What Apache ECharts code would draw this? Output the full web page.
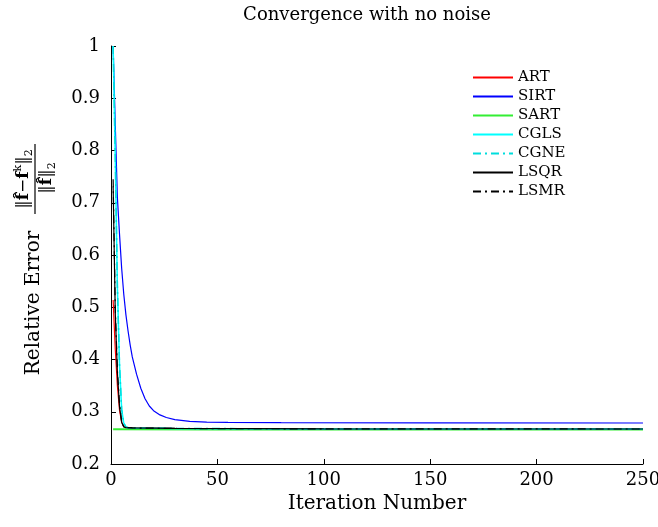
<!DOCTYPE html>
<html>
<head>
<meta charset="utf-8">
<script src="https://cdn.jsdelivr.net/npm/echarts@6/dist/echarts.min.js"></script>
<style>html,body{margin:0;padding:0;background:#fff}#c{width:658px;height:527px}</style>
</head>
<body>
<div id="c"></div>
<script>
const seriesNames = ['ART','SIRT','SART','CGLS','CGNE','LSQR','LSMR'];
const xTicks = [0, 50, 100, 150, 200, 250];
const yTicks = [0.2, 0.3, 0.4, 0.5, 0.6, 0.7, 0.8, 0.9, 1];

const artIter  = [1, 2, 3, 4, 5, 6, 7, 10, 30, 100, 250];
const artVal   = [0.514, 0.42, 0.35, 0.303, 0.28, 0.272, 0.270, 0.269, 0.268, 0.2672, 0.267];

const sirtIter = [1, 2, 3, 4, 5, 6, 7, 8, 9, 10, 12, 14, 16, 18, 20, 23, 26, 30, 37, 45, 55, 80, 150, 250];
const sirtVal  = [1.0, 0.85, 0.71, 0.64, 0.575, 0.525, 0.486, 0.455, 0.428, 0.405, 0.372, 0.345, 0.325, 0.311, 0.302, 0.294, 0.289, 0.285, 0.2815, 0.2803, 0.2795, 0.279, 0.2787, 0.2785];

const sartIter = [1, 50, 250];
const sartVal  = [0.2665, 0.266, 0.266];

const cglsIter = [1, 2, 3, 4, 5, 6, 7, 8, 10, 30, 100, 250];
const cglsVal  = [1.0, 0.79, 0.54, 0.39, 0.305, 0.278, 0.271, 0.2695, 0.269, 0.268, 0.2672, 0.267];

const cgneIter = [1, 2, 3, 4, 5, 6, 7, 8, 10, 30, 100, 250];
const cgneVal  = [1.0, 0.79, 0.54, 0.39, 0.305, 0.278, 0.271, 0.2695, 0.269, 0.268, 0.2672, 0.267];

const lsqrIter = [1, 2, 3, 4, 5, 6, 7, 10, 30, 100, 250];
const lsqrVal  = [0.731, 0.49, 0.375, 0.31, 0.28, 0.271, 0.2695, 0.269, 0.268, 0.2672, 0.267];

const lsmrIter = [1, 2, 3, 4, 5, 6, 7, 10, 30, 100, 250];
const lsmrVal  = [0.745, 0.50, 0.38, 0.315, 0.282, 0.272, 0.2698, 0.269, 0.268, 0.2672, 0.267];

const pairs = (xs, ys) => xs.map((x, i) => [x, ys[i]]);
const FONT = 'DejaVu Serif';

const styles = [
  {color: '#ff0000', width: 1.2, type: 'solid'},
  {color: '#0000ff', width: 1.2, type: 'solid'},
  {color: '#33ee33', width: 2, type: 'solid'},
  {color: '#00ffff', width: 1.5, type: 'solid'},
  {color: '#00dddd', width: 1.5, type: [8, 4, 2, 4]},
  {color: '#000000', width: 1.2, type: 'solid'},
  {color: '#000000', width: 1.2, type: [8, 4, 2, 4]}
];
const dataSets = [
  pairs(artIter, artVal), pairs(sirtIter, sirtVal), pairs(sartIter, sartVal),
  pairs(cglsIter, cglsVal), pairs(cgneIter, cgneVal), pairs(lsqrIter, lsqrVal), pairs(lsmrIter, lsmrVal)
];

const richFrac = {
  n: {fontFamily: FONT, fontSize: 17, fill: '#000', lineHeight: 22},
  b: {fontFamily: FONT, fontSize: 17, fontWeight: 'bold', fill: '#000', lineHeight: 22},
  sup: {fontFamily: FONT, fontSize: 11, fill: '#000', verticalAlign: 'top', lineHeight: 22},
  sub: {fontFamily: FONT, fontSize: 11, fill: '#000', verticalAlign: 'bottom', lineHeight: 22}
};

const chart = echarts.init(document.getElementById('c'), null, {renderer: 'canvas'});
chart.setOption({
  animation: false,
  backgroundColor: '#fff',
  title: {
    text: 'Convergence with no noise',
    left: 362, top: 1, textAlign: 'center',
    textStyle: {fontFamily: FONT, fontSize: 18, fontWeight: 'normal', color: '#000'}
  },
  legend: {
    orient: 'vertical', left: 472, top: 70, padding: 0,
    itemWidth: 40, itemHeight: 14, itemGap: 4,
    data: seriesNames,
    itemStyle: {opacity: 0},
    textStyle: {fontFamily: FONT, fontSize: 15, color: '#000'}
  },
  grid: {left: 111, right: 15, top: 46, bottom: 63, containLabel: false, outerBoundsMode: 'none'},
  xAxis: {
    type: 'value', min: xTicks[0], max: xTicks[xTicks.length - 1], interval: 50,
    name: 'Iteration Number', nameLocation: 'middle', nameGap: 12,
    nameTextStyle: {fontFamily: FONT, fontSize: 20, color: '#000', verticalAlign: 'top'},
    axisLine: {lineStyle: {color: '#000', width: 1}},
    axisTick: {inside: true, length: 5, lineStyle: {color: '#000'}},
    axisLabel: {fontFamily: FONT, fontSize: 18, color: '#000', margin: 7, hideOverlap: false},
    splitLine: {show: false}
  },
  yAxis: {
    type: 'value', min: yTicks[0], max: yTicks[yTicks.length - 1], interval: 0.1,
    axisLine: {show: true, lineStyle: {color: '#000', width: 1}},
    axisTick: {show: true, inside: true, length: 5, lineStyle: {color: '#000'}},
    axisLabel: {fontFamily: FONT, fontSize: 18, color: '#000', margin: 11,
      formatter: v => String(Math.round(v * 10) / 10)},
    splitLine: {show: false}
  },
  graphic: [{
    type: 'group', x: 35, y: 300, rotation: Math.PI / 2,
    children: [
      {type: 'text', x: -3, y: 9, style: {text: 'Relative Error', fontFamily: FONT, fontSize: 20,
        fill: '#000', align: 'center', verticalAlign: 'bottom'}},
      {type: 'line', shape: {x1: 86, y1: 0, x2: 156, y2: 0}, style: {stroke: '#000', lineWidth: 1.2}},
      {type: 'text', x: 121, y: -11, style: {
        text: '{n|‖}{b|f̂}{n|−}{b|f}{sup|k}{n|‖}{sub|2}',
        align: 'center', verticalAlign: 'middle', rich: richFrac}},
      {type: 'text', x: 122, y: 12, style: {
        text: '{n|‖}{b|f̂}{n|‖}{sub|2}',
        align: 'center', verticalAlign: 'middle', rich: richFrac}}
    ]
  }],
  series: seriesNames.map((name, i) => ({
    name: name, type: 'line', data: dataSets[i],
    symbol: 'none', showSymbol: false,
    lineStyle: styles[i], itemStyle: {color: styles[i].color},
    clip: true, z: 2 + i
  }))
});
</script>
</body>
</html>
